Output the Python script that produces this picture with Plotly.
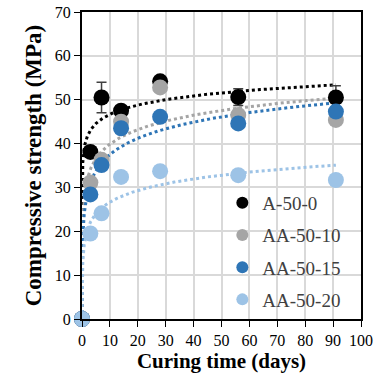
import numpy as np
import plotly.graph_objects as go

days = [0, 3, 7, 14, 28, 56, 91]
a50_0 = [0, 38.1, 50.5, 47.5, 54.2, 50.6, 50.5]
a50_0_err = [0, 0.5, 3.5, 0.8, 0.5, 1.9, 2.7]
aa50_10 = [0, 31.1, 36.3, 45.0, 52.8, 46.5, 45.4]
aa50_15 = [0, 28.4, 35.1, 43.5, 46.1, 44.6, 47.3]
aa50_20 = [0, 19.5, 24.1, 32.4, 33.7, 32.8, 31.7]

names = ["A-50-0", "AA-50-10", "AA-50-15", "AA-50-20"]
series = [a50_0, aa50_10, aa50_15, aa50_20]
colors = ["#000000", "#A5A5A5", "#2E75B6", "#9DC3E6"]

fig = go.Figure()

# logarithmic trend lines (fitted to t > 0)
for vals, col in zip(series, colors):
    t = np.array(days[1:], dtype=float)
    v = np.array(vals[1:], dtype=float)
    b, a = np.polyfit(np.log(t), v, 1)
    t0 = np.exp(-a / b)
    tt = np.geomspace(t0, 91, 600)
    fig.add_trace(go.Scatter(x=tt, y=a + b * np.log(tt), mode="lines",
                             line=dict(color=col, width=3, dash="dot"),
                             showlegend=False, hoverinfo="skip"))

for i, (name, vals, col) in enumerate(zip(names, series, colors)):
    kw = {}
    if i == 0:
        kw["error_y"] = dict(type="data", array=a50_0_err, color="#404040",
                             thickness=1.5, width=5)
    fig.add_trace(go.Scatter(x=days, y=vals, mode="markers", name=name,
                             legendgroup=name, cliponaxis=False,
                             marker=dict(color=col, size=16), **kw))

fig.update_layout(
    width=384, height=381,
    margin=dict(l=82, r=23, t=12, b=62),
    paper_bgcolor="white", plot_bgcolor="white",
    font=dict(family="Liberation Serif", size=16, color="#000000"),
    showlegend=True,
    legend=dict(x=0.503, y=0.44, xanchor="left", yanchor="top",
                bgcolor="rgba(0,0,0,0)", font=dict(size=19, color="#404040"),
                itemsizing="constant", tracegroupgap=4.5),
    xaxis=dict(range=[0, 100], dtick=10, showgrid=True, gridcolor="#D9D9D9",
               gridwidth=1.5, showline=True, linecolor="black", linewidth=2,
               mirror=True, ticks="outside", ticklen=6, tickcolor="black",
               zeroline=False, automargin=False,
               title=dict(text="<b>Curing time (days)</b>", font=dict(size=21),
                          standoff=0)),
    yaxis=dict(range=[0, 70], dtick=10, showgrid=True, gridcolor="#D9D9D9",
               gridwidth=1.5, showline=True, linecolor="black", linewidth=2,
               mirror=True, ticks="outside", ticklen=6, tickcolor="black",
               zeroline=False, automargin=False,
               title=dict(text="<b>Compressive strength (MPa)</b>",
                          font=dict(size=23), standoff=7)),
)

fig.write_html("out.html", config={"displayModeBar": False},
               post_script="document.body.style.margin='0';document.body.style.overflow='hidden';")
